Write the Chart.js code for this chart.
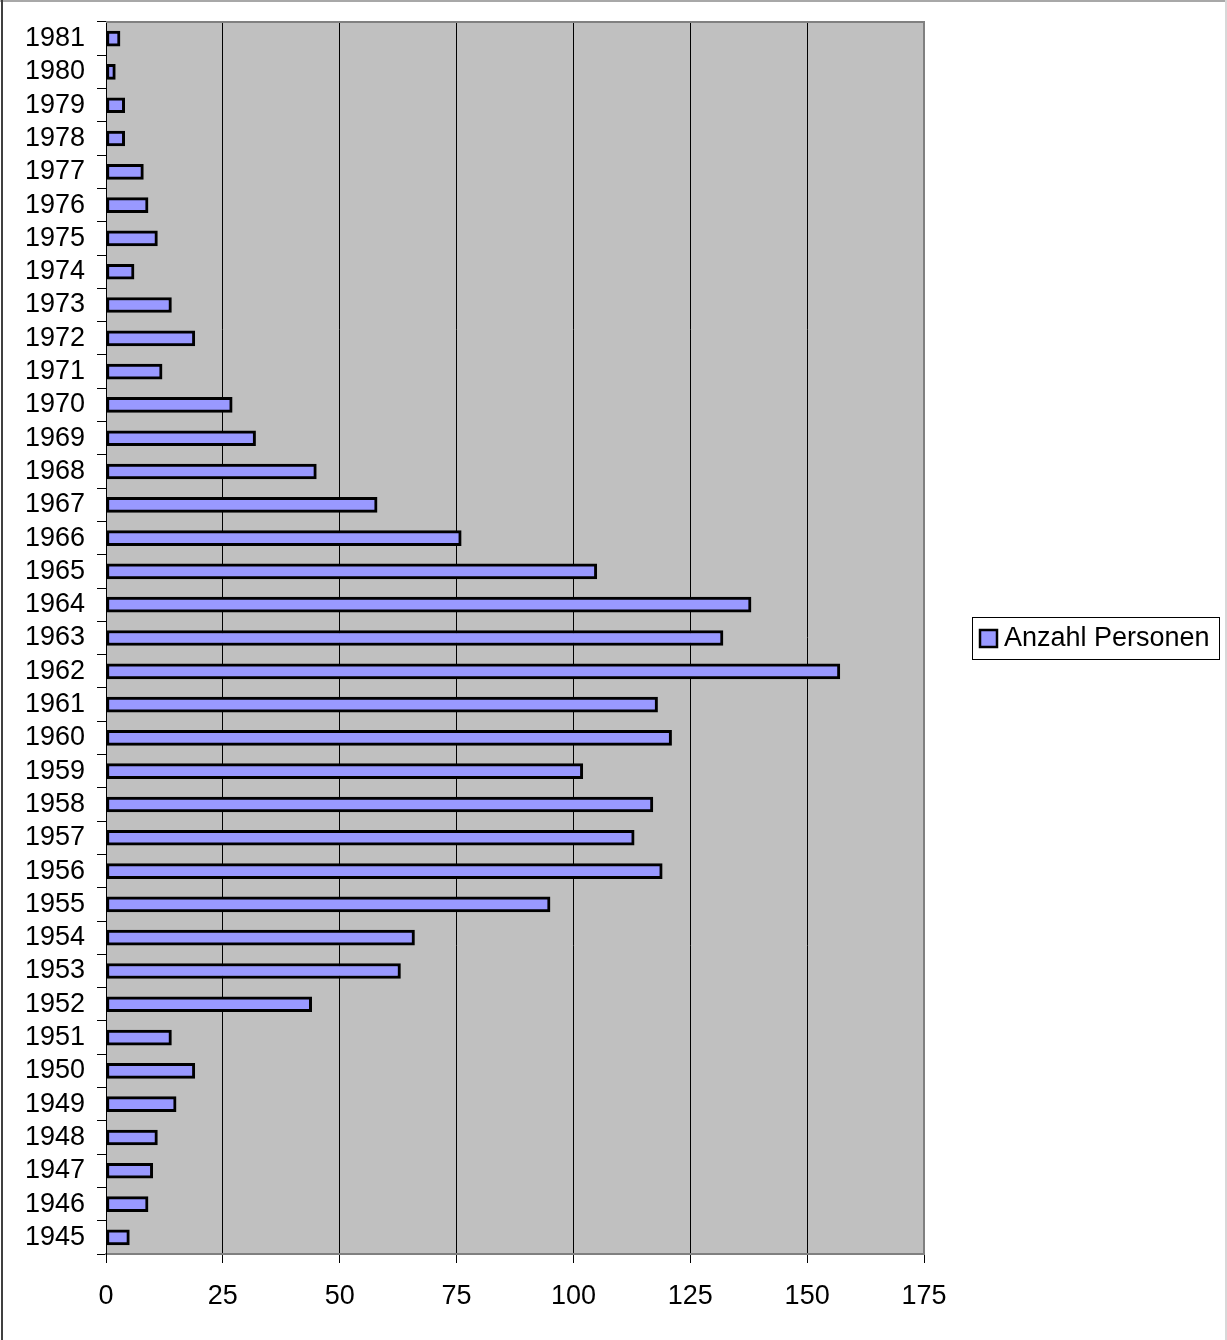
<!DOCTYPE html>
<html>
<head>
<meta charset="utf-8">
<script src="https://cdn.jsdelivr.net/npm/chart.js@4/dist/chart.umd.min.js"></script>
<style>
    html, body { margin: 0; padding: 0; background: #fff; }
    #wrap { width: 1227px; height: 1340px; position: relative; }
</style>
</head>
<body>
<div id="wrap"><canvas id="chart" width="1227" height="1340"></canvas></div>
<script>
// Data (1945 at the bottom, 1981 at the top)
const years = [
    "1945", "1946", "1947", "1948", "1949", "1950", "1951", "1952", "1953", "1954",
    "1955", "1956", "1957", "1958", "1959", "1960", "1961", "1962", "1963", "1964",
    "1965", "1966", "1967", "1968", "1969", "1970", "1971", "1972", "1973", "1974",
    "1975", "1976", "1977", "1978", "1979", "1980", "1981"
];
const persons = [
    5, 9, 10, 11, 15, 19, 14, 44, 63, 66,
    95, 119, 113, 117, 102, 121, 118, 157, 132, 138,
    105, 76, 58, 45, 32, 27, 12, 19, 14, 6,
    11, 9, 8, 4, 4, 2, 3
];
const seriesName = "Anzahl Personen";
const xTicks = [0, 25, 50, 75, 100, 125, 150, 175];

const FONT = { family: "'Liberation Sans', Arial, sans-serif", size: 27 };
const BAR_FILL = "#9999FF";

// Grey plot area, plot frame, outer frame and legend box
const excelLook = {
    id: "excelLook",
    beforeDraw(chart) {
        const { ctx, chartArea: a } = chart;
        ctx.save();
        ctx.fillStyle = "#C0C0C0";
        ctx.fillRect(a.left, a.top, a.right - a.left, a.bottom - a.top);
        ctx.restore();
    },
    afterDraw(chart) {
        const { ctx, chartArea: a, width, height } = chart;
        ctx.save();
        // plot frame (top + right)
        ctx.strokeStyle = "#808080";
        ctx.lineWidth = 2;
        ctx.beginPath();
        ctx.moveTo(a.left, a.top);
        ctx.lineTo(a.right, a.top);
        ctx.lineTo(a.right, a.bottom);
        ctx.stroke();

        // outer frame
        ctx.lineWidth = 2;
        ctx.strokeStyle = "#A8A8A8";
        ctx.beginPath();
        ctx.moveTo(0, 1);
        ctx.lineTo(width, 1);
        ctx.stroke();
        ctx.strokeStyle = "#404040";
        ctx.beginPath();
        ctx.moveTo(2, 0);
        ctx.lineTo(2, height);
        ctx.stroke();
        ctx.strokeStyle = "#D8D8D8";
        ctx.beginPath();
        ctx.moveTo(width - 1, 0);
        ctx.lineTo(width - 1, height);
        ctx.stroke();

        // legend
        const cy = (a.top + a.bottom) / 2;
        const bx = 972, bw = 247, bh = 42, by = cy - bh / 2;
        ctx.fillStyle = "#fff";
        ctx.fillRect(bx, by, bw, bh);
        ctx.strokeStyle = "#000";
        ctx.lineWidth = 1;
        ctx.strokeRect(bx + 0.5, by + 0.5, bw, bh);
        ctx.fillStyle = BAR_FILL;
        ctx.fillRect(980, cy - 8, 17, 17);
        ctx.lineWidth = 2.5;
        ctx.strokeRect(980, cy - 8, 17, 17);
        ctx.fillStyle = "#000";
        ctx.font = FONT.size + "px " + FONT.family;
        ctx.textBaseline = "middle";
        ctx.fillText(chart.data.datasets[0].label, 1004, cy + 1);
        ctx.restore();
    }
};

new Chart(document.getElementById("chart"), {
    type: "bar",
    data: {
        labels: years,
        datasets: [{
            label: seriesName,
            data: persons,
            backgroundColor: BAR_FILL,
            borderColor: "#000",
            borderWidth: 3,
            borderSkipped: false,
            barThickness: 15
        }]
    },
    options: {
        indexAxis: "y",
        responsive: false,
        animation: false,
        devicePixelRatio: 1,
        layout: { padding: { top: 22, right: 303, left: 0, bottom: 0 } },
        plugins: {
            legend: { display: false },
            tooltip: { enabled: false }
        },
        scales: {
            x: {
                type: "linear",
                min: xTicks[0],
                max: xTicks[xTicks.length - 1],
                afterBuildTicks(scale) {
                    scale.ticks = xTicks.map(v => ({ value: v }));
                },
                afterFit(scale) {
                    scale.height = 86;
                    scale.paddingLeft = 0;
                    scale.paddingRight = 0;
                },
                grid: {
                    color: "#000",
                    lineWidth: 1,
                    tickLength: 9,
                    tickColor: "#000"
                },
                border: { color: "#808080", width: 2 },
                ticks: {
                    color: "#000",
                    font: FONT,
                    padding: 17,
                    maxRotation: 0
                }
            },
            y: {
                reverse: true,
                afterFit(scale) {
                    scale.width = 106;
                    scale.paddingTop = 0;
                    scale.paddingBottom = 0;
                },
                grid: {
                    drawOnChartArea: false,
                    tickLength: 9,
                    tickColor: "#000",
                    offset: true
                },
                border: { color: "#000", width: 1 },
                ticks: {
                    color: "#000",
                    font: FONT,
                    padding: 12,
                    autoSkip: false
                }
            }
        }
    },
    plugins: [excelLook]
});
</script>
</body>
</html>
